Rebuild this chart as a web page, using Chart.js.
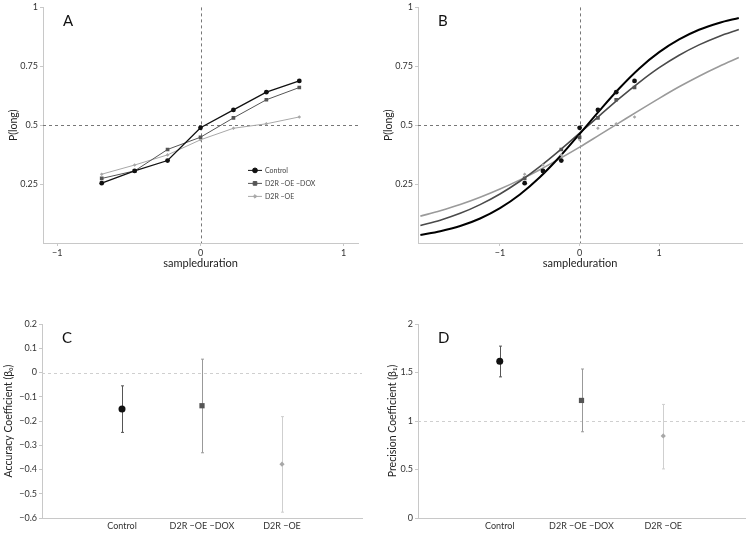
<!DOCTYPE html>
<html>
<head>
<meta charset="utf-8">
<script src="https://cdn.jsdelivr.net/npm/chart.js@4"></script>
<style>
body { margin: 0; background: #fff; }
#wrap { position: relative; width: 750px; height: 533px; }
canvas { position: absolute; }
</style>
</head>
<body>
<div id="wrap">
<canvas id="chartA" width="375" height="270" style="left:0;top:0;width:375px;height:270px"></canvas>
<canvas id="chartB" width="375" height="270" style="left:375px;top:0;width:375px;height:270px"></canvas>
<canvas id="chartC" width="375" height="263" style="left:0;top:270px;width:375px;height:263px"></canvas>
<canvas id="chartD" width="375" height="263" style="left:375px;top:270px;width:375px;height:263px"></canvas>
</div>
<script>
// sample durations (log ratio) and P(long) per group
const durations = [-0.69, -0.46, -0.23, 0, 0.23, 0.46, 0.69];
const pControl = [0.254, 0.306, 0.350, 0.489, 0.565, 0.640, 0.688];
const pDox = [0.274, 0.306, 0.397, 0.449, 0.531, 0.608, 0.660];
const pOe = [0.292, 0.331, 0.374, 0.438, 0.487, 0.506, 0.535];

// fitted curves
const fitX = [-2, -1.75, -1.5, -1.25, -1, -0.75, -0.5, -0.25, 0, 0.25, 0.5, 0.75, 1, 1.25, 1.5, 1.75, 2];
const fitControl = [0.034, 0.050, 0.072, 0.104, 0.148, 0.206, 0.279, 0.366, 0.463, 0.562, 0.657, 0.741, 0.810, 0.864, 0.905, 0.934, 0.955];
const fitDox = [0.074, 0.097, 0.126, 0.163, 0.208, 0.262, 0.324, 0.393, 0.466, 0.541, 0.614, 0.682, 0.744, 0.797, 0.841, 0.877, 0.906];
const fitOe = [0.114, 0.137, 0.163, 0.194, 0.229, 0.268, 0.311, 0.358, 0.407, 0.459, 0.511, 0.563, 0.614, 0.663, 0.708, 0.749, 0.787];

// tick values
const pTicks = [0.25, 0.5, 0.75, 1];
const durTicks = [-1, 0, 1];

// coefficients with error bars
const groups = ['Control', 'D2R \u2212OE \u2212DOX', 'D2R \u2212OE'];
const beta0 = [-0.150, -0.137, -0.378];
const beta0Low = [-0.247, -0.331, -0.576];
const beta0High = [-0.055, 0.055, -0.182];
const beta1 = [1.615, 1.212, 0.846];
const beta1Low = [1.455, 0.889, 0.506];
const beta1High = [1.772, 1.536, 1.171];

const FONT = 'Lato, "Open Sans", sans-serif';
const groupColors = ['#111', '#555', '#a8a8a8'];
const errColors = ['#555', '#999', '#cfcfcf'];
const groupStyles = ['circle', 'rect', 'rectRot'];

function pts(xs, ys) {
    return xs.map((x, i) => ({ x: x, y: ys[i] }));
}

function minusFmt(v) {
    const r = Math.round(v * 100) / 100;
    if (r === 0) return '0';
    return r < 0 ? '\u2212' + Math.abs(r) : String(r);
}

// letter in the corner, dashed reference lines, error bars, legend
const panelPlugin = {
    id: 'panel',
    beforeDatasetsDraw(chart) {
        const o = chart.options.plugins.panel;
        const ctx = chart.ctx;
        const a = chart.chartArea;
        const xs = chart.scales.x, ys = chart.scales.y;
        ctx.save();
        ctx.strokeStyle = o.refColor;
        ctx.lineWidth = 1;
        ctx.setLineDash([3, 3]);
        (o.refX || []).forEach(v => {
            const px = Math.round(xs.getPixelForValue(v)) + 0.5;
            ctx.beginPath(); ctx.moveTo(px, a.top); ctx.lineTo(px, a.bottom); ctx.stroke();
        });
        (o.refY || []).forEach(v => {
            const py = Math.round(ys.getPixelForValue(v)) + 0.5;
            ctx.beginPath(); ctx.moveTo(a.left, py); ctx.lineTo(a.right, py); ctx.stroke();
        });
        ctx.setLineDash([]);
        if (o.low) {
            o.low.forEach((lo, i) => {
                const px = Math.round(xs.getPixelForValue(i + 1)) + 0.5;
                const y1 = ys.getPixelForValue(lo), y2 = ys.getPixelForValue(o.high[i]);
                ctx.strokeStyle = errColors[i];
                ctx.beginPath();
                ctx.moveTo(px, y1); ctx.lineTo(px, y2);
                ctx.moveTo(px - 1.5, y1); ctx.lineTo(px + 1.5, y1);
                ctx.moveTo(px - 1.5, y2); ctx.lineTo(px + 1.5, y2);
                ctx.stroke();
            });
        }
        ctx.fillStyle = '#111';
        ctx.font = '15px ' + FONT;
        ctx.textBaseline = 'alphabetic';
        ctx.fillText(o.letter, a.left + 20, a.top + 19);
        ctx.restore();
    },
    afterDraw(chart) {
        const o = chart.options.plugins.panel;
        if (!o.legend) return;
        const ctx = chart.ctx;
        const a = chart.chartArea;
        ctx.save();
        chart.data.datasets.forEach((ds, i) => {
            const x0 = a.left + 205, y = a.top + 163 + i * 13;
            ctx.strokeStyle = ds.borderColor;
            ctx.fillStyle = ds.backgroundColor;
            ctx.lineWidth = 1;
            ctx.beginPath(); ctx.moveTo(x0, y); ctx.lineTo(x0 + 14, y); ctx.stroke();
            Chart.helpers.drawPoint(ctx, { pointStyle: ds.pointStyle, radius: ds.pointRadius, rotation: 0, borderWidth: 1 }, x0 + 7, y);
            ctx.fillStyle = '#444';
            ctx.font = '7px ' + FONT;
            ctx.textBaseline = 'middle';
            ctx.fillText(ds.label, x0 + 17, y);
        });
        ctx.restore();
    }
};

function axisBase(extra) {
    return Object.assign({
        type: 'linear',
        border: { color: '#c8c8c8' },
        grid: { drawOnChartArea: false, color: '#c8c8c8', tickLength: 3 },
        ticks: { color: '#333', font: { family: FONT, size: 9 }, padding: 2 }
    }, extra);
}

function curveOptions(letter, xMin, xMax, showLegend, pad) {
    return {
        responsive: false,
        animation: false,
        layout: { padding: { top: 7, right: pad, left: 0, bottom: 0 } },
        plugins: {
            legend: { display: false },
            tooltip: { enabled: false },
            panel: { letter: letter, refX: [0], refY: [0.5], refColor: '#777', legend: showLegend }
        },
        scales: {
            x: axisBase({
                min: xMin, max: xMax,
                afterBuildTicks: s => { s.ticks = durTicks.map(v => ({ value: v })); },
                afterFit: s => { s.height = 27; },
                ticks: { color: '#333', font: { family: FONT, size: 9 }, padding: 2, callback: minusFmt },
                title: { display: true, text: 'sampleduration', color: '#222', font: { family: FONT, size: 11 }, padding: { top: 0, bottom: 0 } }
            }),
            y: axisBase({
                min: 0, max: 1,
                afterBuildTicks: s => { s.ticks = pTicks.map(v => ({ value: v })); },
                afterFit: s => { s.width = 43; },
                ticks: { color: '#333', font: { family: FONT, size: 9 }, padding: 2, callback: v => String(v) },
                title: { display: true, text: 'P(long)', color: '#222', font: { family: FONT, size: 10.5 }, padding: { top: 7, bottom: 0 } }
            })
        }
    };
}

function groupSets(ys, sizes, withLine) {
    return ys.map((p, i) => ({
        label: groups[i],
        data: pts(durations, p),
        borderColor: groupColors[i],
        backgroundColor: groupColors[i],
        pointStyle: groupStyles[i],
        pointRadius: sizes[i],
        pointBorderWidth: 0,
        borderWidth: i === 0 ? 1.3 : 1,
        showLine: withLine
    }));
}

new Chart(document.getElementById('chartA'), {
    type: 'scatter',
    data: { datasets: groupSets([pControl, pDox, pOe], [2.4, 2.6, 1.8], true) },
    options: curveOptions('A', -1.1, 1.1, true, 17),
    plugins: [panelPlugin]
});

const fitSets = [fitControl, fitDox, fitOe].map((f, i) => ({
    label: groups[i] + ' fit',
    data: pts(fitX, f),
    borderColor: ['#000', '#4a4a4a', '#9a9a9a'][i],
    borderWidth: [2, 1.6, 1.6][i],
    pointRadius: 0,
    showLine: true,
    cubicInterpolationMode: 'monotone'
}));

new Chart(document.getElementById('chartB'), {
    type: 'scatter',
    data: { datasets: groupSets([pControl, pDox, pOe], [2.4, 2.6, 1.8], false).concat(fitSets) },
    options: curveOptions('B', -2.03, 2.04, false, 8),
    plugins: [panelPlugin]
});

function coefChart(id, letter, vals, low, high, yMin, yMax, step, refY, yTitle, padRight, titlePad) {
    const sets = vals.map((v, i) => ({
        label: groups[i],
        data: [{ x: i + 1, y: v }],
        backgroundColor: groupColors[i],
        borderColor: groupColors[i],
        pointStyle: groupStyles[i],
        pointRadius: [3.5, 3.7, 2.6][i],
        pointBorderWidth: 0
    }));
    new Chart(document.getElementById(id), {
        type: 'scatter',
        data: { datasets: sets },
        options: {
            responsive: false,
            animation: false,
            layout: { padding: { top: 54, right: padRight, left: 0, bottom: 0 } },
            plugins: {
                legend: { display: false },
                tooltip: { enabled: false },
                panel: { letter: letter, refY: [refY], refColor: '#cfcfcf', low: low, high: high }
            },
            scales: {
                x: axisBase({
                    min: 0, max: 4,
                    grid: { drawOnChartArea: false, drawTicks: false, tickLength: 0, color: '#c8c8c8' },
                    afterBuildTicks: s => { s.ticks = [1, 2, 3].map(v => ({ value: v })); },
                    afterFit: s => { s.height = 15; },
                    ticks: { color: '#333', font: { family: FONT, size: 9 }, padding: 3, maxRotation: 0, autoSkip: false, callback: v => groups[v - 1] }
                }),
                y: axisBase({
                    min: yMin, max: yMax,
                    ticks: { color: '#333', font: { family: FONT, size: 9 }, padding: 2, stepSize: step, callback: minusFmt },
                    afterFit: s => { s.width = id === 'chartC' ? 42 : 43; },
                    title: { display: true, text: yTitle, color: '#222', font: { family: FONT, size: 10.5 }, padding: { top: titlePad, bottom: 0 } }
                })
            }
        },
        plugins: [panelPlugin]
    });
}

coefChart('chartC', 'C', beta0, beta0Low, beta0High, -0.6, 0.2, 0.1, 0, 'Accuracy Coefficient (\u03B2\u2080)', 13, 2);
coefChart('chartD', 'D', beta1, beta1Low, beta1High, 0, 2, 0.5, 1, 'Precision Coefficient (\u03B2\u2081)', 5, 11);
</script>
</body>
</html>
